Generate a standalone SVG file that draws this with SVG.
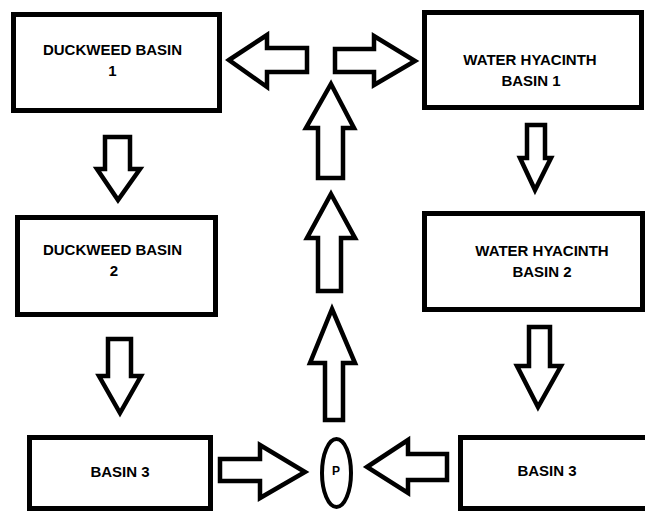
<svg xmlns="http://www.w3.org/2000/svg" width="645" height="512" viewBox="0 0 645 512">
<style>
.box{fill:#fff;stroke:#000;stroke-width:5}
.arr{fill:#fff;stroke:#000;stroke-width:4.5;stroke-linejoin:miter}
.t{font-family:"Liberation Sans",Arial,sans-serif;font-weight:bold;font-size:15px;text-anchor:middle;fill:#000}
.p{font-family:"Liberation Sans",Arial,sans-serif;font-weight:bold;font-size:12px;text-anchor:middle;fill:#000}
</style>
<rect width="645" height="512" fill="#fff"/>
<g id="duckweed1">
<rect class="box" x="13.5" y="14.5" width="206" height="96"/>
<text class="t" x="112.5" y="55">DUCKWEED BASIN</text>
<text class="t" x="112.5" y="76">1</text>
</g>
<g id="hyacinth1">
<rect class="box" x="424.5" y="12.5" width="217" height="95"/>
<text class="t" x="530" y="65">WATER HYACINTH</text>
<text class="t" x="531" y="86">BASIN 1</text>
</g>
<g id="duckweed2">
<rect class="box" x="17.5" y="217.5" width="198" height="97"/>
<text class="t" x="112.5" y="255">DUCKWEED BASIN</text>
<text class="t" x="114" y="276">2</text>
</g>
<g id="hyacinth2">
<rect class="box" x="424.5" y="213.5" width="218" height="96"/>
<text class="t" x="542" y="256">WATER HYACINTH</text>
<text class="t" x="542" y="277">BASIN 2</text>
</g>
<g id="basin3left">
<rect class="box" x="29.5" y="437.5" width="181" height="71"/>
<text class="t" x="120" y="477">BASIN 3</text>
</g>
<g id="basin3right">
<rect class="box" x="460.5" y="437.5" width="190" height="71"/>
<text class="t" x="547" y="476">BASIN 3</text>
</g>
<g id="pump">
<ellipse cx="336.5" cy="473" rx="14.5" ry="34" fill="#fff" stroke="#000" stroke-width="4"/>
<text class="p" x="336" y="475">P</text>
</g>
<g id="connectors">
<polygon class="arr" points="229,60 267,35 267,48 307,48 307,72 267,72 267,87"/>
<polygon class="arr" points="335,49 374,49 374,36 415,61 374,85 374,72 335,72"/>
<polygon class="arr" points="331,84 354,128 343,128 343,178 318,178 318,128 306,128"/>
<polygon class="arr" points="331,194 355,238 341,238 341,291 318,291 318,238 307,238"/>
<polygon class="arr" points="332,309 355,363 343,363 343,420 325,420 325,363 310,363"/>
<polygon class="arr" points="220,459 260,459 260,445 305,472 260,498 260,481 220,481"/>
<polygon class="arr" points="367,467 408,440 408,454 447,454 447,480 408,480 408,493"/>
<polygon class="arr" points="105,137 130,137 130,169 140,169 118,200 97,169 105,169"/>
<polygon class="arr" points="108,339 131,339 131,376 141,376 120,413 99,376 108,376"/>
<polygon class="arr" points="527,125 545,125 545,158 551,158 535,190 520,158 527,158"/>
<polygon class="arr" points="529,327 550,327 550,366 561,366 538,407 517,366 529,366"/>
</g>
</svg>
